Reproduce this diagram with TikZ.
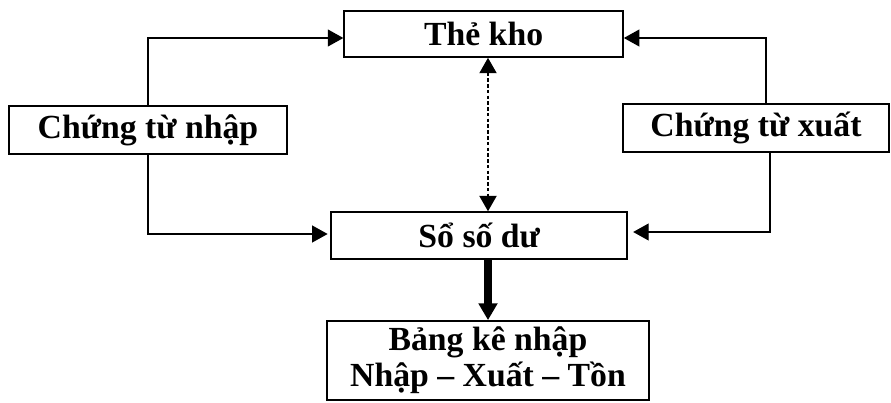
\documentclass[tikz,border=0pt]{standalone}
\usepackage{fontspec}
\setmainfont{Liberation Serif}
\usetikzlibrary{arrows.meta}

\tikzset{
  hop/.style={draw, line width=1.1pt, inner sep=0pt, align=center,
    font=\fontsize{24}{26}\selectfont\bfseries},
  arr/.style={line width=0.9pt, -{Triangle[length=11pt,width=12pt]}},
  dotarr/.style={line width=1.8pt, dash pattern=on 2.5pt off 1.6pt,
    {Triangle[length=11pt,width=12pt]}-{Triangle[length=11pt,width=12pt]}},
  bigarr/.style={line width=5pt, -{Triangle[length=12pt,width=13pt]}}
}

\begin{document}
\begin{tikzpicture}
        \useasboundingbox (0,0) rectangle (22.275,-10.075);

        \node[hop, minimum width=6.975cm, minimum height=1.15cm] (the) at (12.09,-0.85) {Thẻ kho};
        \node[hop, minimum width=6.95cm, minimum height=1.2cm] (cn) at (3.7,-3.25) {Chứng từ nhập};
        \node[hop, minimum width=6.65cm, minimum height=1.2cm] (cx) at (18.9,-3.2) {Chứng từ xuất};
        \node[hop, minimum width=7.4cm, minimum height=1.175cm] (ssd) at (11.98,-5.89) {Sổ số dư};
        \node[hop, minimum width=8.05cm, minimum height=1.975cm] (bk) at (12.2,-9.01) {Bảng kê nhập\\Nhập -- Xuất -- Tồn};

        \draw[arr] (cn.north) |- ([yshift=-0.1cm]the.west);
        \draw[arr] (cn.south) |- ([xshift=-0.07cm,yshift=0.04cm]ssd.west);
        \draw[arr] ([xshift=0.25cm]cx.north) |- ([yshift=-0.1cm]the.east);
        \draw[arr] ([xshift=0.35cm]cx.south) |- ([xshift=0.13cm,yshift=0.09cm]ssd.east);

        \draw[dotarr] (the.south -| bk.north) -- (ssd.north -| bk.north);
        \draw[bigarr] (ssd.south -| bk.north) -- (bk.north);
    \end{tikzpicture}
\end{document}
